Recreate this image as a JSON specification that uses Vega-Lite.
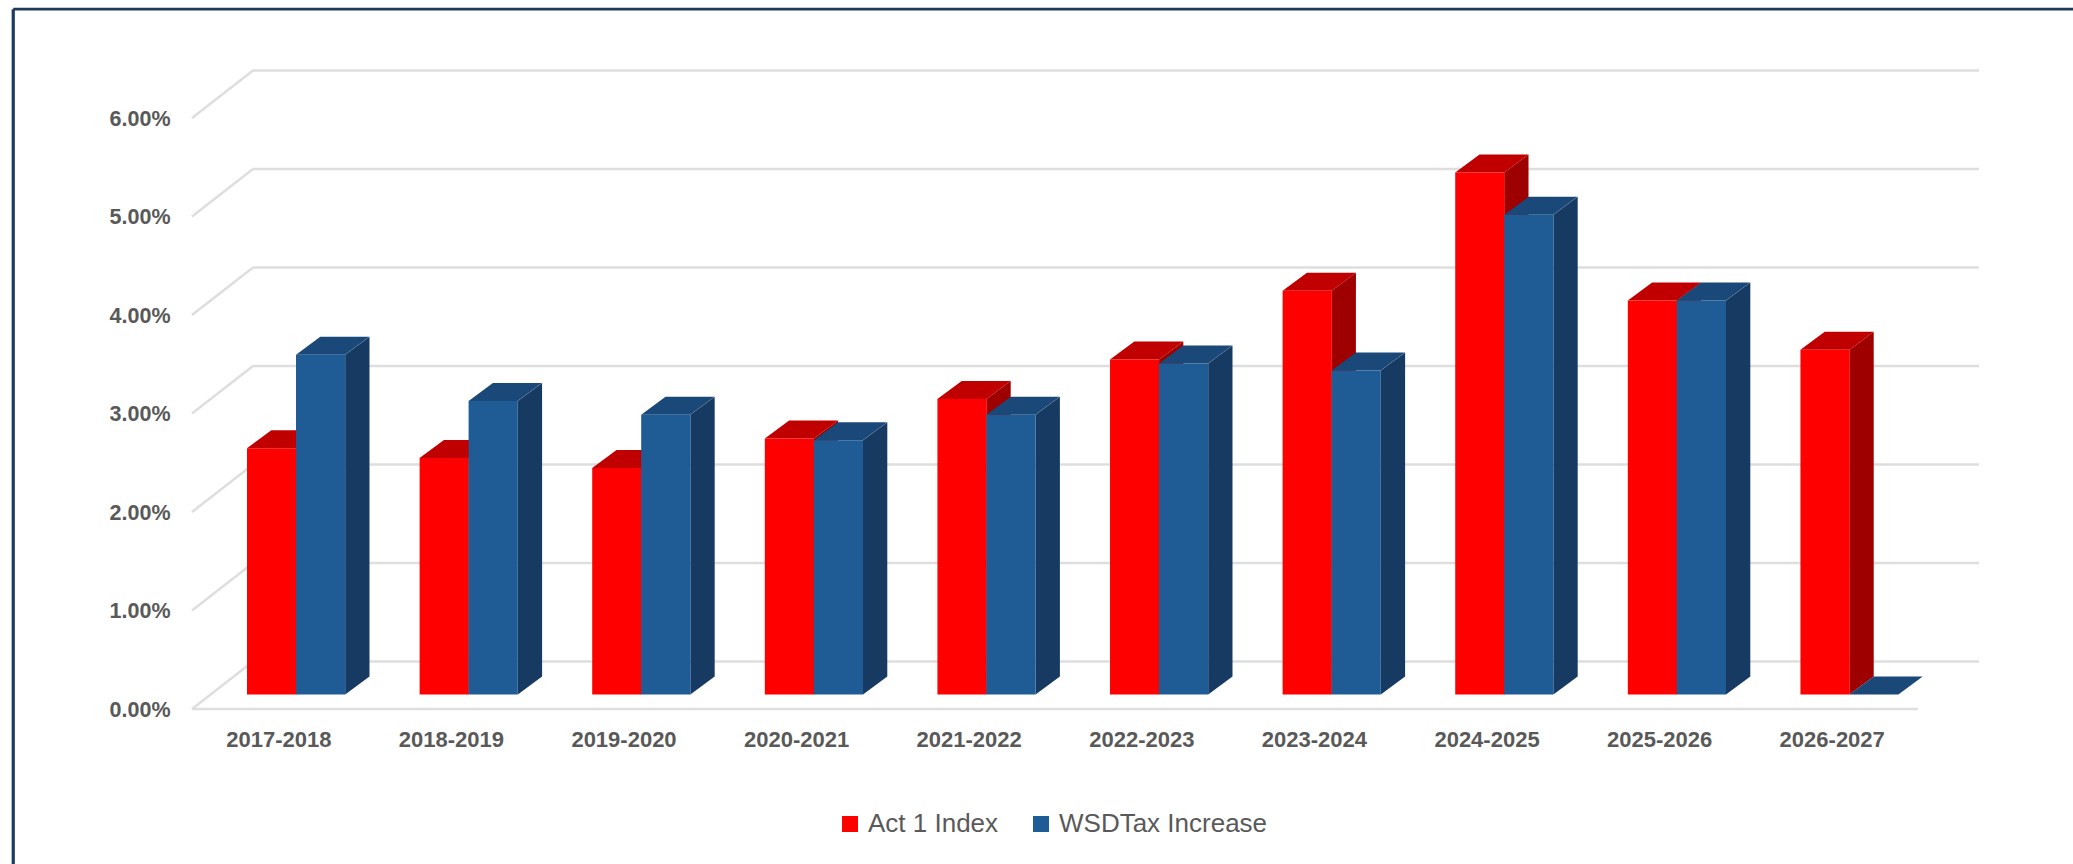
{
  "$schema": "https://vega.github.io/schema/vega-lite/v6.json",
  "width": 2073,
  "height": 864,
  "padding": 0,
  "autosize": {"type": "none"},
  "background": "#ffffff",
  "config": {"view": {"stroke": null}},
  "datasets": {
    "rates": [
      {"start": 2017, "series": "Act 1 Index", "value": 0.025},
      {"start": 2018, "series": "Act 1 Index", "value": 0.024},
      {"start": 2019, "series": "Act 1 Index", "value": 0.023},
      {"start": 2020, "series": "Act 1 Index", "value": 0.026},
      {"start": 2021, "series": "Act 1 Index", "value": 0.03},
      {"start": 2022, "series": "Act 1 Index", "value": 0.034},
      {"start": 2023, "series": "Act 1 Index", "value": 0.041},
      {"start": 2024, "series": "Act 1 Index", "value": 0.053},
      {"start": 2025, "series": "Act 1 Index", "value": 0.04},
      {"start": 2026, "series": "Act 1 Index", "value": 0.035},
      {"start": 2017, "series": "WSDTax Increase", "value": 0.0345},
      {"start": 2018, "series": "WSDTax Increase", "value": 0.0298},
      {"start": 2019, "series": "WSDTax Increase", "value": 0.0284},
      {"start": 2020, "series": "WSDTax Increase", "value": 0.0258},
      {"start": 2021, "series": "WSDTax Increase", "value": 0.0284},
      {"start": 2022, "series": "WSDTax Increase", "value": 0.0336},
      {"start": 2023, "series": "WSDTax Increase", "value": 0.0329},
      {"start": 2024, "series": "WSDTax Increase", "value": 0.0487},
      {"start": 2025, "series": "WSDTax Increase", "value": 0.04},
      {"start": 2026, "series": "WSDTax Increase", "value": 0}
    ],
    "levels": [
      {"level": 0}, {"level": 0.01}, {"level": 0.02}, {"level": 0.03},
      {"level": 0.04}, {"level": 0.05}, {"level": 0.06}
    ]
  },
  "layer": [
    {
      "data": {"name": "levels"},
      "transform": [{"calculate": "datum.level + 0.00482", "as": "wall"}],
      "layer": [
        {
          "mark": {"type": "rule", "stroke": "#dedede", "strokeWidth": 2.5},
          "encoding": {
            "x": {
              "datum": 2016.5,
              "type": "quantitative",
              "scale": {"domain": [2015.3876, 2027.3979], "nice": false, "zero": false},
              "axis": {
                "values": [2017, 2018, 2019, 2020, 2021, 2022, 2023, 2024, 2025, 2026],
                "labelExpr": "datum.value + '-' + (datum.value + 1)",
                "title": null,
                "domain": false,
                "ticks": false,
                "grid": false,
                "offset": -135,
                "labelPadding": 0,
                "labelFont": "Liberation Sans",
                "labelFontSize": 22,
                "labelFontWeight": "bold",
                "labelColor": "#595959",
                "labelBaseline": "top",
                "labelOverlap": false
              }
            },
            "x2": {"datum": 2016.8534},
            "y": {
              "field": "level",
              "type": "quantitative",
              "scale": {"domain": [-0.015736, 0.07198], "nice": false, "zero": false},
              "axis": {
                "values": [0, 0.01, 0.02, 0.03, 0.04, 0.05, 0.06],
                "format": ".2%",
                "title": null,
                "domain": false,
                "ticks": false,
                "grid": false,
                "offset": -175,
                "labelPadding": 5,
                "labelOffset": 1,
                "labelFont": "Liberation Sans",
                "labelFontSize": 21.5,
                "labelFontWeight": "bold",
                "labelColor": "#595959"
              }
            },
            "y2": {"field": "wall"}
          }
        },
        {
          "mark": {"type": "rule", "stroke": "#dedede", "strokeWidth": 2.5},
          "encoding": {
            "x": {"datum": 2016.8534, "type": "quantitative"},
            "x2": {"datum": 2026.8534},
            "y": {"field": "wall", "type": "quantitative"}
          }
        },
        {
          "transform": [{"filter": "datum.level === 0"}],
          "mark": {"type": "rule", "stroke": "#dedede", "strokeWidth": 2.5},
          "encoding": {
            "x": {"datum": 2016.5, "type": "quantitative"},
            "x2": {"datum": 2026.5},
            "y": {"field": "level", "type": "quantitative"}
          }
        },
        {
          "transform": [{"filter": "datum.level === 0.06"}],
          "mark": {"type": "rule", "stroke": "#1f3a5f", "strokeWidth": 3.2},
          "encoding": {
            "x": {"datum": 2015.4644, "type": "quantitative"},
            "y": {"datum": -0.015736, "type": "quantitative"},
            "y2": {"datum": 0.07105}
          }
        },
        {
          "transform": [{"filter": "datum.level === 0.06"}],
          "mark": {"type": "rule", "stroke": "#1f3a5f", "strokeWidth": 2.6},
          "encoding": {
            "x": {"datum": 2015.4644, "type": "quantitative"},
            "x2": {"datum": 2027.3979},
            "y": {"datum": 0.07105, "type": "quantitative"}
          }
        }
      ]
    },
    {
      "data": {"name": "rates"},
      "transform": [
        {"calculate": "datum.start + (datum.series === 'Act 1 Index' ? 0.1025 : 0.3875)", "as": "right"},
        {"calculate": "[0, 1]", "as": "depth"},
        {"flatten": ["depth"]},
        {"calculate": "datum.right + datum.depth * 0.1408", "as": "sideX"},
        {"calculate": "datum.value + datum.depth * 0.00183", "as": "sideTop"},
        {"calculate": "datum.depth * 0.00183", "as": "sideBase"}
      ],
      "mark": {"type": "area", "interpolate": "linear", "line": false},
      "encoding": {
        "x": {
          "field": "sideX",
          "type": "quantitative",
          "scale": {"domain": [2015.3876, 2027.3979], "nice": false, "zero": false},
          "axis": null
        },
        "y": {
          "field": "sideTop",
          "type": "quantitative",
          "stack": null,
          "scale": {"domain": [-0.017208, 0.070508], "nice": false, "zero": false},
          "axis": null
        },
        "y2": {"field": "sideBase"},
        "detail": {"field": "start"},
        "color": {
          "field": "series",
          "type": "nominal",
          "scale": {"domain": ["Act 1 Index", "WSDTax Increase"], "range": ["#9e0000", "#163a61"]},
          "legend": null
        }
      }
    },
    {
      "data": {"name": "rates"},
      "transform": [
        {"calculate": "datum.start + (datum.series === 'Act 1 Index' ? -0.1813 : 0.1025)", "as": "left"}
      ],
      "mark": {
        "type": "point",
        "filled": true,
        "opacity": 1,
        "size": 4,
        "shape": "M0,0 L49,0 L73.3,-18 L24.3,-18 Z"
      },
      "encoding": {
        "x": {
          "field": "left",
          "type": "quantitative",
          "scale": {"domain": [2015.3876, 2027.3979], "nice": false, "zero": false},
          "axis": null
        },
        "y": {
          "field": "value",
          "type": "quantitative",
          "scale": {"domain": [-0.017208, 0.070508], "nice": false, "zero": false},
          "axis": null
        },
        "color": {
          "field": "series",
          "type": "nominal",
          "scale": {"domain": ["Act 1 Index", "WSDTax Increase"], "range": ["#c00000", "#1a4878"]},
          "legend": null
        }
      }
    },
    {
      "data": {"name": "rates"},
      "transform": [
        {"calculate": "datum.start + (datum.series === 'Act 1 Index' ? -0.1813 : 0.1025)", "as": "left"},
        {"calculate": "datum.left + 0.285", "as": "right"}
      ],
      "mark": {"type": "bar"},
      "encoding": {
        "x": {
          "field": "left",
          "type": "quantitative",
          "scale": {"domain": [2015.3876, 2027.3979], "nice": false, "zero": false},
          "axis": null
        },
        "x2": {"field": "right"},
        "y": {
          "field": "value",
          "type": "quantitative",
          "stack": null,
          "scale": {"domain": [-0.017208, 0.070508], "nice": false, "zero": false},
          "axis": null
        },
        "y2": {"datum": 0},
        "color": {
          "field": "series",
          "type": "nominal",
          "scale": {"domain": ["Act 1 Index", "WSDTax Increase"], "range": ["#ff0000", "#1f5c96"]},
          "legend": {
            "title": null,
            "orient": "none",
            "legendX": 837,
            "legendY": 811,
            "direction": "horizontal",
            "symbolType": "square",
            "symbolSize": 256,
            "symbolStrokeWidth": 0,
            "labelFont": "Liberation Sans",
            "labelFontSize": 26,
            "labelColor": "#595959",
            "labelLimit": 400,
            "labelOffset": 5,
            "columnPadding": 29
          }
        }
      }
    }
  ],
  "resolve": {"scale": {"x": "independent", "y": "independent", "color": "independent"}}
}
